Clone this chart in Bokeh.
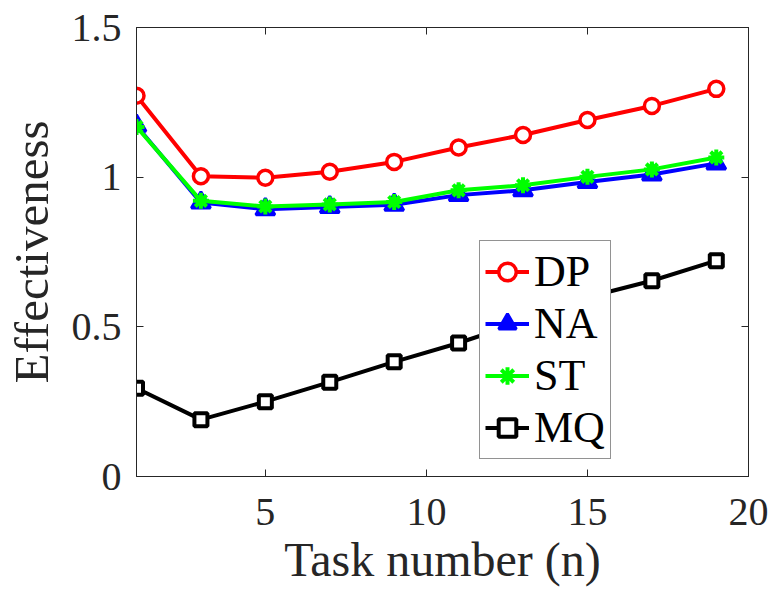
from bokeh.plotting import figure
from bokeh.models import (Range1d, LinearAxis, FixedTicker, CustomJSTickFormatter,
                          Legend, LegendItem)
from bokeh.embed import file_html
from bokeh.resources import INLINE

task = [1, 3, 5, 7, 9, 11, 13, 15, 17, 19]
dp = [1.272, 1.003, 0.998, 1.018, 1.051, 1.099, 1.141, 1.191, 1.238, 1.295]
na = [1.172, 0.915, 0.893, 0.900, 0.908, 0.940, 0.956, 0.984, 1.009, 1.046]
st = [1.168, 0.921, 0.902, 0.909, 0.917, 0.956, 0.973, 1.001, 1.026, 1.066]
mq = [0.295, 0.190, 0.250, 0.315, 0.383, 0.446, 0.518, 0.599, 0.654, 0.721]
names = ["DP", "NA", "ST", "MQ"]
x_ticks = [5, 10, 15, 20]
y_ticks = [0, 0.5, 1, 1.5]

FONT = "Liberation Serif"
AX = "#262626"

p = figure(frame_width=612, frame_height=449, width=769, height=590,
           output_backend="svg", toolbar_location=None,
           x_range=Range1d(1, 20), y_range=Range1d(0, 1.5),
           x_axis_location=None, y_axis_location=None,
           min_border_left=134, min_border_right=23,
           min_border_top=27, min_border_bottom=114)
p.xgrid.visible = False
p.ygrid.visible = False
p.outline_line_color = AX
p.outline_line_width = 1
p.background_fill_color = "white"
p.border_fill_color = "white"

fmt = CustomJSTickFormatter(code="return tick.toString();")
blank = CustomJSTickFormatter(code="return '';")


def style_axis(ax):
    ax.axis_line_color = AX
    ax.major_tick_line_color = AX
    ax.major_tick_in = 7
    ax.major_tick_out = 0
    ax.minor_tick_line_color = None
    ax.major_label_text_font = FONT
    ax.major_label_text_color = AX
    ax.major_label_text_font_size = "40px"
    ax.axis_label_text_font = FONT
    ax.axis_label_text_color = AX
    ax.axis_label_text_font_size = "48px"
    ax.axis_label_text_font_style = "normal"


xb = LinearAxis(ticker=FixedTicker(ticks=x_ticks), formatter=fmt,
                axis_label="Task number (n)")
style_axis(xb)
xb.major_label_standoff = 22
xb.axis_label_standoff = 5
p.add_layout(xb, "below")

yl = LinearAxis(ticker=FixedTicker(ticks=y_ticks), formatter=fmt,
                axis_label="Effectiveness")
style_axis(yl)
yl.axis_label_text_font_size = "49px"
yl.major_label_standoff = 15
yl.axis_label_standoff = 10
p.add_layout(yl, "left")

xt = LinearAxis(ticker=FixedTicker(ticks=x_ticks), formatter=blank)
style_axis(xt)
xt.major_label_standoff = 0
p.add_layout(xt, "above")
yr = LinearAxis(ticker=FixedTicker(ticks=y_ticks), formatter=blank)
style_axis(yr)
yr.major_label_standoff = 0
p.add_layout(yr, "right")

items = []

l1 = p.line(task, dp, line_color="red", line_width=4)
m1 = p.scatter(task, dp, marker="circle", size=15, line_color="red",
               line_width=3.5, fill_color="white")
items.append(LegendItem(label=names[0], renderers=[l1, m1]))

l2 = p.line(task, na, line_color="blue", line_width=4)
m2 = p.scatter(task, na, marker="triangle", size=19, line_color="blue",
               line_width=3, fill_color="blue")
items.append(LegendItem(label=names[1], renderers=[l2, m2]))

l3 = p.line(task, st, line_color="#00ff00", line_width=4)
m3 = p.scatter(task, st, marker="asterisk", size=16, line_color="#00ff00",
               line_width=4)
items.append(LegendItem(label=names[2], renderers=[l3, m3]))

l4 = p.line(task, mq, line_color="black", line_width=4)
m4 = p.scatter(task, mq, marker="square", size=13, line_color="black",
               line_width=4, fill_color="white")
items.append(LegendItem(label=names[3], renderers=[l4, m4]))

legend = Legend(items=items, location=(343, 17))
legend.label_text_font = FONT
legend.label_text_font_size = "44px"
legend.label_text_color = "black"
legend.glyph_width = 44
legend.glyph_height = 51
legend.label_height = 51
legend.label_standoff = 5
legend.spacing = 1
legend.padding = 5
legend.margin = 0
legend.border_line_color = AX
legend.border_line_width = 1
legend.background_fill_color = "white"
legend.background_fill_alpha = 1
p.add_layout(legend, "center")

open("out.html", "w").write(file_html(p, INLINE))
